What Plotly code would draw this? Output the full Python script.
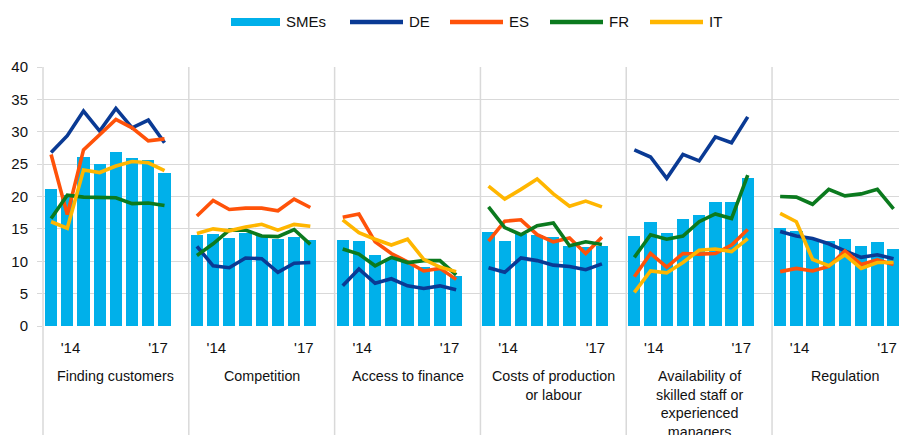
import plotly.graph_objects as go

panels = ["Finding customers", "Competition", "Access to finance",
          "Costs of production<br>or labour",
          "Availability of<br>skilled staff or<br>experienced<br>managers",
          "Regulation"]
tick_text = ["'14", "'17"]

# 8 half-year observations per panel, 2014-2017
smes = [
    [21.2, 20.3, 26.1, 25.0, 26.9, 25.9, 25.6, 23.7],
    [14.0, 14.2, 13.6, 14.3, 13.9, 13.4, 13.8, 13.3],
    [13.3, 13.1, 11.0, 10.4, 9.9, 9.1, 8.9, 7.7],
    [14.5, 13.2, 14.2, 14.1, 13.7, 12.4, 12.2, 12.4],
    [13.9, 16.1, 14.3, 16.6, 17.2, 19.1, 19.1, 22.9],
    [15.2, 14.7, 13.5, 13.1, 13.5, 12.3, 12.9, 11.9],
]
de = [
    [26.8, 29.4, 33.2, 30.1, 33.6, 30.6, 31.8, 28.3],
    [12.3, 9.3, 9.0, 10.5, 10.4, 8.3, 9.7, 9.8],
    [6.2, 8.8, 6.6, 7.3, 6.2, 5.8, 6.2, 5.6],
    [9.0, 8.3, 10.5, 10.1, 9.4, 9.2, 8.7, 9.6],
    [27.2, 26.1, 22.8, 26.5, 25.5, 29.2, 28.3, 32.3],
    [14.6, 13.9, 13.5, 12.7, 11.6, 10.6, 11.0, 10.4],
]
es = [
    [26.5, 17.2, 27.2, 29.6, 31.9, 30.6, 28.6, 28.9],
    [17.0, 19.4, 18.0, 18.2, 18.2, 17.8, 19.6, 18.3],
    [16.8, 17.3, 13.0, 11.2, 9.9, 8.5, 8.9, 7.2],
    [13.1, 16.2, 16.4, 14.1, 13.0, 13.6, 11.2, 13.7],
    [7.6, 11.2, 9.1, 11.2, 11.1, 11.2, 12.5, 14.9],
    [8.4, 8.9, 8.5, 9.2, 11.6, 9.5, 10.2, 9.5],
]
fr = [
    [16.6, 20.2, 19.9, 19.9, 19.8, 18.9, 19.0, 18.6],
    [10.9, 12.7, 14.8, 14.8, 13.9, 13.8, 14.9, 12.6],
    [11.9, 11.1, 9.3, 10.6, 9.8, 10.1, 10.1, 7.9],
    [18.4, 15.2, 14.1, 15.5, 15.9, 12.4, 13.0, 12.6],
    [10.6, 14.1, 13.4, 13.9, 16.1, 17.3, 16.6, 23.3],
    [20.0, 19.9, 18.8, 21.1, 20.1, 20.4, 21.1, 18.1],
]
it = [
    [16.1, 15.1, 24.1, 23.7, 24.7, 25.4, 25.2, 24.0],
    [14.3, 15.0, 14.7, 15.3, 15.7, 14.8, 15.7, 15.4],
    [16.4, 14.4, 13.4, 12.5, 13.4, 10.3, 9.1, 8.4],
    [21.6, 19.6, 21.1, 22.7, 20.4, 18.5, 19.3, 18.4],
    [5.2, 8.5, 8.2, 9.8, 11.7, 11.9, 11.5, 13.5],
    [17.4, 16.1, 10.3, 9.3, 11.0, 8.9, 9.8, 9.8],
]

c_sme = '#00B0EA'
series = [("DE", de, '#0A3A94'), ("ES", es, '#FF5209'),
          ("FR", fr, '#0B7A1E'), ("IT", it, '#FFB600')]

slot = 9
xmax = 52.83
font = "Liberation Sans, Arial, sans-serif"

fig = go.Figure()

bx, by = [], []
for p, vals in enumerate(smes):
    for i, v in enumerate(vals):
        bx.append(p * slot + i)
        by.append(v)
fig.add_trace(go.Bar(x=bx, y=by, name='SMEs', marker_color=c_sme,
                     marker_line_width=0, width=0.76, showlegend=False))

for name, data, col in series:
    lx, ly = [], []
    for p, vals in enumerate(data):
        lx += [p * slot + i for i in range(len(vals))] + [None]
        ly += list(vals) + [None]
    fig.add_trace(go.Scatter(x=lx, y=ly, mode='lines', name=name, showlegend=False,
                             line=dict(width=3.6, color=col), connectgaps=False))

# panel separators
span = xmax + 0.5
shapes = []
for p in range(6):
    xp = (p * slot) / span
    shapes.append(dict(type='line', xref='paper', yref='paper', x0=xp, x1=xp,
                       y0=-0.43, y1=1, line=dict(color='#D9D9D9', width=1.5)))

# legend drawn by hand (positions in page pixels, plot area 43..907 x 67..326)
H = 259.0
def yp(py):
    return (326 - py) / H
def xpp(px):
    return (px - 43) / 864.0

shapes.append(dict(type='rect', xref='paper', yref='paper', x0=xpp(231), x1=xpp(280),
                   y0=yp(26), y1=yp(18), fillcolor=c_sme, line_width=0))
annotations = [dict(text='SMEs', x=xpp(284), y=yp(22), xref='paper', yref='paper',
                    xanchor='left', yanchor='middle', showarrow=False,
                    font=dict(size=15, color='#111', family=font))]
for k, (name, data, col) in enumerate(series):
    x0 = 350 + 100 * k
    shapes.append(dict(type='line', xref='paper', yref='paper', x0=xpp(x0), x1=xpp(x0 + 53),
                       y0=yp(22), y1=yp(22), line=dict(color=col, width=4.5)))
    annotations.append(dict(text=name, x=xpp(x0 + 57), y=yp(22), xref='paper', yref='paper',
                            xanchor='left', yanchor='middle', showarrow=False,
                            font=dict(size=15, color='#111', family=font)))

for p, lab in enumerate(panels):
    annotations.append(dict(text=lab, x=p * slot + 4, y=yp(366), xref='x', yref='paper',
                            xanchor='center', yanchor='top', showarrow=False, align='center',
                            font=dict(size=14.3, color='#111', family=font)))

tickvals, ticktext = [], []
for p in range(6):
    tickvals += [p * slot + 1.2, p * slot + 6.6]
    ticktext += tick_text

# page body has an 8px margin, so the figure is 8px smaller and shifted
fig.update_layout(
    width=899, height=427,
    margin=dict(l=35, r=0, t=59, b=109, autoexpand=False),
    plot_bgcolor='white', paper_bgcolor='white',
    bargap=0, showlegend=False,
    font=dict(family=font, size=15, color='#111'),
    shapes=shapes, annotations=annotations,
    xaxis=dict(range=[-0.5, xmax], showgrid=False, zeroline=False, showline=False,
               tickvals=tickvals, ticktext=ticktext, ticks='outside', ticklen=8,
               tickcolor='rgba(0,0,0,0)', tickfont=dict(size=15)),
    yaxis=dict(range=[0, 40], dtick=5, gridcolor='#D9D9D9', gridwidth=1.3,
               zeroline=False, showline=False, ticks='outside', ticklen=5,
               tickcolor='#D9D9D9', ticklabelstandoff=6, tickfont=dict(size=15)),
)

fig.write_html("out.html")
